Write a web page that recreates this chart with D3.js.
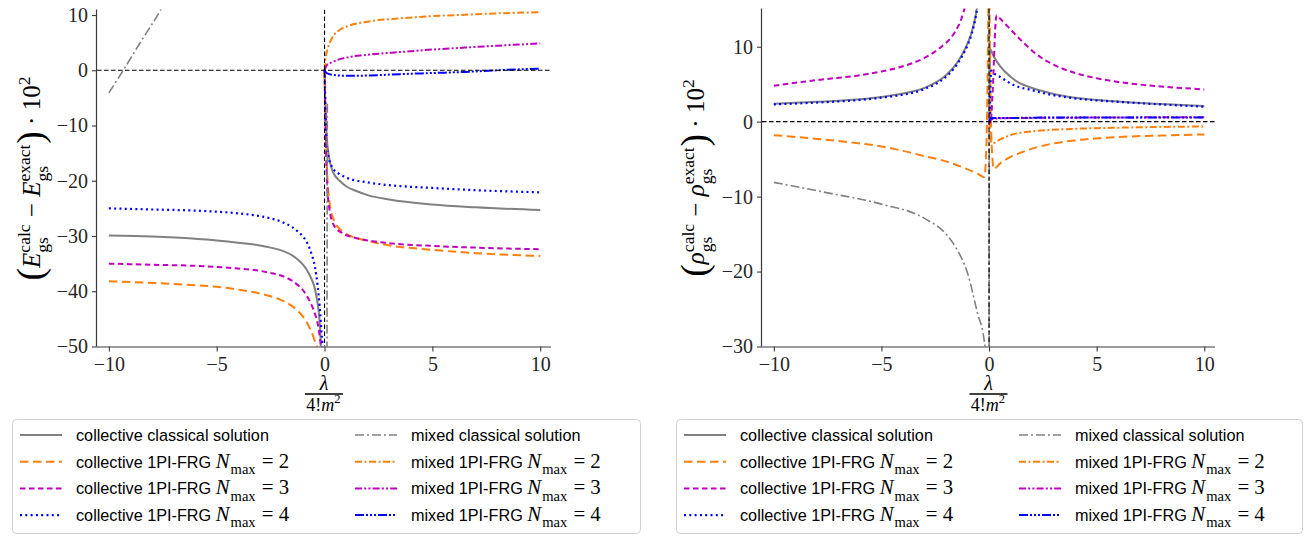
<!DOCTYPE html>
<html>
<head>
<meta charset="utf-8">
<script src="https://cdn.jsdelivr.net/npm/d3@7"></script>
<style>
  body { margin: 0; background: #fff; }
  svg { display: block; }
  text { white-space: pre; }
</style>
</head>
<body>
<div id="chart"></div>
<script>
// ---- data: [lambda/(4! m^2), value*100] ----
const xTicks = [-10, -5, 0, 5, 10];
const energyTicks = [-50, -40, -30, -20, -10, 0, 10];
const densityTicks = [-30, -20, -10, 0, 10];

// ground state energy differences (left panel), each series split at lambda = 0
const eCollClassNeg = [[-10,-29.9],[-8,-30.1],[-6,-30.5],[-5,-30.8],[-4,-31.2],[-3,-31.7],[-2.5,-32.1],[-2,-32.6],[-1.5,-33.5],[-1.2,-34.4],[-1,-35.2],[-0.8,-36.3],[-0.6,-37.8],[-0.45,-39.5],[-0.35,-41.5],[-0.25,-44.5],[-0.17,-50.3],[-0.12,-60]];
const eCollClassPos = [[0.004,0],[0.03,-6],[0.1,-12],[0.2,-15.5],[0.4,-18.5],[0.7,-20],[1,-21],[1.5,-21.9],[2,-22.6],[3,-23.4],[5,-24.3],[7,-24.8],[10,-25.3]];
const eColl2Neg = [[-10,-38.2],[-8,-38.5],[-6,-38.9],[-5,-39.2],[-4,-39.7],[-3,-40.4],[-2.5,-40.9],[-2,-41.6],[-1.5,-42.7],[-1.2,-43.7],[-1,-44.6],[-0.8,-45.8],[-0.6,-47.4],[-0.45,-49],[-0.32,-50.5],[-0.2,-56]];
const eColl2Pos = [[0.004,0],[0.05,-10],[0.14,-20],[0.22,-23.6],[0.45,-27.3],[0.84,-29.2],[1.5,-30.4],[2,-30.9],[3,-31.7],[5,-32.5],[7,-33.1],[10,-33.6]];
const eColl3Neg = [[-10,-35],[-8,-35.2],[-6,-35.4],[-5,-35.6],[-4,-35.9],[-3,-36.3],[-2.5,-36.7],[-2,-37.2],[-1.5,-38.1],[-1.2,-39],[-1,-39.8],[-0.8,-41],[-0.6,-42.5],[-0.45,-44],[-0.32,-45.8],[-0.22,-48.3],[-0.15,-51],[-0.1,-58]];
const eColl3Pos = [[0.004,0],[0.05,-11],[0.14,-22],[0.22,-25],[0.45,-28.2],[0.84,-29.5],[1.5,-30.4],[2,-30.8],[3,-31.3],[5,-31.8],[7,-32.1],[10,-32.4]];
const eColl4Neg = [[-10,-25],[-8,-25.2],[-6,-25.4],[-5,-25.6],[-4,-25.9],[-3,-26.4],[-2.5,-26.8],[-2,-27.4],[-1.5,-28.4],[-1.2,-29.3],[-1,-30.1],[-0.8,-31.3],[-0.6,-33.3],[-0.45,-35.5],[-0.32,-39],[-0.22,-43],[-0.14,-47.5],[-0.09,-50.5],[-0.05,-58]];
const eColl4Pos = [[0.004,0],[0.05,-8],[0.1,-13],[0.2,-16],[0.4,-17.8],[0.7,-18.8],[1,-19.4],[2,-20.3],[3,-20.8],[5,-21.3],[7,-21.7],[10,-22.1]];
const eMixClassNeg = [[-10,-4.1],[-9.3,0.2],[-8.5,5.3],[-7.6,10.9],[-7.3,13]];
const eMixClassPos = [[0.11,-60],[0.12,-30],[0.13,-6]];
const eMix2Pos = [[0.003,0],[0.05,2.2],[0.14,3.8],[0.37,6.0],[0.7,7.3],[1.15,8.1],[2,8.8],[3.5,9.4],[5,9.8],[6.5,10.05],[8,10.3],[10,10.5]];
const eMix3Pos = [[0.003,0],[0.1,0.9],[0.37,1.5],[1.15,2.4],[2,2.8],[3.5,3.3],[5,3.75],[6.5,4.1],[8,4.45],[10,4.85]];
const eMix4Pos = [[0.003,0],[0.1,-0.5],[0.5,-0.9],[1.15,-1.0],[2,-0.95],[3.5,-0.7],[5,-0.5],[6.5,-0.3],[8,0],[10,0.3]];

// ground state density differences (right panel)
const dCollClassNeg = [[-10,2.4],[-8,2.65],[-6,3.0],[-5,3.3],[-4,3.75],[-3,4.5],[-2,6.2],[-1.6,7.4],[-1.3,8.7],[-1,10.4],[-0.8,12],[-0.6,14.5],[-0.5,16.5]];
const dCollClassPos = [[0.02,0.5],[0.05,9.7],[0.2,8.8],[0.54,7.3],[1,6.0],[1.32,5.3],[2,4.5],[2.87,3.8],[4,3.2],[6,2.7],[8,2.35],[10,2.1]];
const dColl2Neg = [[-10,-1.8],[-8,-2.3],[-6,-2.9],[-5,-3.3],[-4,-3.9],[-3,-4.6],[-2,-5.3],[-1.3,-6.0],[-0.8,-6.6],[-0.5,-7.0],[-0.22,-7.4],[-0.12,-3],[-0.07,5],[-0.03,16]];
const dColl2Pos = [[0.02,16],[0.06,5],[0.12,-3],[0.22,-6.3],[0.5,-5.6],[1,-4.7],[1.5,-4.1],[2,-3.6],[3,-2.9],[4,-2.5],[6,-2.05],[8,-1.85],[10,-1.7]];
const dColl3Neg = [[-10,4.8],[-8,5.55],[-6,6.2],[-5,6.7],[-4,7.4],[-3,8.5],[-2.3,9.8],[-1.6,11.9],[-1.3,13.6],[-1.1,15.5],[-1,16.5]];
const dColl3Pos = [[0.1,0.3],[0.2,6],[0.28,12],[0.35,14.2],[0.5,13.8],[0.8,12.9],[1.1,12.0],[1.4,11.1],[1.8,10.0],[2.2,9.0],[3,7.6],[4,6.5],[5,5.8],[6,5.3],[8,4.7],[10,4.3]];
const dColl4Neg = [[-10,2.3],[-8,2.55],[-6,2.9],[-5,3.2],[-4,3.6],[-3,4.35],[-2,6.0],[-1.6,7.2],[-1.3,8.5],[-1,10.2],[-0.8,11.8],[-0.6,14.3],[-0.5,16.3]];
const dColl4Pos = [[0.03,0.3],[0.1,6.8],[0.2,6.5],[0.5,6.0],[1,5.1],[1.32,4.7],[2,4.2],[2.87,3.6],[4,3.1],[6,2.65],[8,2.3],[10,2.0]];
const dMixClassNeg = [[-10,-8.1],[-7.5,-9.5],[-5,-11],[-3,-12.9],[-2,-15],[-1.5,-17],[-1,-20.2],[-0.54,-25.5],[-0.23,-29.1],[-0.15,-31]];
const dMixClassPos = [[0.005,-32],[0.01,16]];
const dMix2Pos = [[0.02,0],[0.08,-2.5],[0.16,-2.9],[0.5,-2.4],[1,-1.8],[1.32,-1.55],[2,-1.3],[2.87,-1.1],[4,-0.95],[6,-0.8],[8,-0.7],[10,-0.65]];
const dMix3Pos = [[0.02,-0.3],[0.1,0.3],[0.5,0.45],[2,0.5],[5,0.55],[10,0.6]];
const dMix4Pos = [[0.02,0],[0.06,0.4],[0.2,0.5],[1,0.5],[3,0.55],[6,0.55],[10,0.55]];

const seriesKeys = ['collClass', 'coll2', 'coll3', 'coll4', 'mixClass', 'mix2', 'mix3', 'mix4'];
const legendText = ['collective classical solution', 'collective 1PI-FRG ', 'collective 1PI-FRG ', 'collective 1PI-FRG ',
                    'mixed classical solution', 'mixed 1PI-FRG ', 'mixed 1PI-FRG ', 'mixed 1PI-FRG '];
const legendN = [null, 2, 3, 4, null, 2, 3, 4];

// ---- styles ----
const styles = {
  collClass: {color: '#808080', dash: null, w: 2},
  coll2: {color: '#ff7f0e', dash: '8.5,4.5', w: 2},
  coll3: {color: '#bf00bf', dash: '5.5,3.5', w: 2},
  coll4: {color: '#0000ff', dash: '2,3.3', w: 2.2},
  mixClass: {color: '#808080', dash: '9,3,2,3', w: 1.6},
  mix2: {color: '#ff7f0e', dash: '7,2.5,2,2.5', w: 2},
  mix3: {color: '#bf00bf', dash: '7,2.2,2,2.2,2,2.2', w: 2},
  mix4: {color: '#0000ff', dash: '9,2,2,2,2,2,2,2', w: 2},
};

const serif = '"Liberation Serif", "DejaVu Serif", serif';
const sans = '"Liberation Sans", Arial, sans-serif';
const axisColor = '#3a3a3a';

const svg = d3.select('#chart').append('svg')
    .attr('width', 1316)
    .attr('height', 536);

const minus = d => d < 0 ? '\u2212' + (-d) : String(d);

// lays out a little formula made of pieces, returns the group and its width
function mathText(parent, parts, fs) {
  const g = parent.append('g');
  let cx = 0;
  parts.forEach(p => {
    if (p.sup !== undefined || p.sub !== undefined) {
      const s = fs * 0.7;
      let w = 0;
      if (p.sup !== undefined) {
        const t = g.append('text').attr('x', cx).attr('y', -fs * 0.42)
          .attr('font-size', s).attr('font-family', serif).text(p.sup);
        w = Math.max(w, t.node().getComputedTextLength());
      }
      if (p.sub !== undefined) {
        const t = g.append('text').attr('x', cx).attr('y', fs * 0.3)
          .attr('font-size', s).attr('font-family', serif).text(p.sub);
        w = Math.max(w, t.node().getComputedTextLength());
      }
      cx += w + 1;
    } else {
      const t = g.append('text').attr('x', cx).attr('y', (p.dy || 0) * fs)
        .attr('font-size', fs * (p.scale || 1))
        .attr('font-style', p.it ? 'italic' : 'normal')
        .attr('font-family', p.font || serif)
        .text(p.t);
      cx += t.node().getComputedTextLength() + (p.pad || 0);
    }
  });
  return {g, width: cx};
}

function panel(cfg) {
  const x = d3.scaleLinear().domain([-10.55, 10.5]).range([cfg.left, cfg.right]);
  const y = d3.scaleLinear().domain(cfg.ydom).range([cfg.bottom, cfg.top]);
  const g = svg.append('g');

  g.append('clipPath').attr('id', cfg.id + '-clip')
    .append('rect')
      .attr('x', cfg.left).attr('y', cfg.top)
      .attr('width', cfg.right - cfg.left).attr('height', cfg.bottom - cfg.top);

  const line = d3.line()
      .x(d => x(d[0]))
      .y(d => y(d[1]))
      .curve(d3.curveMonotoneX);

  const plot = g.append('g').attr('clip-path', `url(#${cfg.id}-clip)`);
  cfg.series.forEach(s => {
    const st = styles[s.key];
    plot.append('path')
      .attr('d', line(s.pts))
      .attr('fill', 'none')
      .attr('stroke', st.color)
      .attr('stroke-width', st.w)
      .attr('stroke-dasharray', st.dash);
  });

  // reference lines at 0
  plot.append('line')
    .attr('x1', cfg.left).attr('x2', cfg.right)
    .attr('y1', y(0)).attr('y2', y(0))
    .attr('stroke', '#000').attr('stroke-width', 1.1).attr('stroke-dasharray', '4.5,2.5');
  plot.append('line')
    .attr('x1', x(0)).attr('x2', x(0))
    .attr('y1', cfg.top).attr('y2', cfg.bottom)
    .attr('stroke', '#000').attr('stroke-width', 1.1).attr('stroke-dasharray', '4.5,2.5');

  const xAxis = g.append('g')
      .attr('transform', `translate(0,${cfg.bottom})`)
      .call(d3.axisBottom(x).tickValues(xTicks).tickSize(5).tickPadding(4).tickFormat(minus));
  const yAxis = g.append('g')
      .attr('transform', `translate(${cfg.left},0)`)
      .call(d3.axisLeft(y).tickValues(cfg.yticks).tickSize(5).tickPadding(4).tickFormat(minus));
  [xAxis, yAxis].forEach(a => {
    a.select('.domain').attr('stroke', axisColor).attr('stroke-width', 1.2);
    a.selectAll('.tick line').attr('stroke', axisColor).attr('stroke-width', 1.1);
    a.selectAll('text').attr('font-family', serif).attr('font-size', 20).attr('fill', '#262626');
  });
  xAxis.select('.domain').attr('d', `M${cfg.left},0.5H${cfg.right}`);
  yAxis.select('.domain').attr('d', `M-0.5,${cfg.bottom}V${cfg.top}`);
  xAxis.selectAll('text').attr('dy', '0.75em');

  // x label: fraction lambda / 4! m^2
  const cx = (cfg.left + cfg.right) / 2;
  g.append('text').attr('x', cx).attr('y', 390)
    .attr('text-anchor', 'middle').attr('font-family', serif).attr('font-style', 'italic')
    .attr('font-size', 20).text('\u03bb');
  g.append('line').attr('x1', cx - 19).attr('x2', cx + 19).attr('y1', 394).attr('y2', 394)
    .attr('stroke', '#000').attr('stroke-width', 1.4);
  const den = mathText(g, [{t: '4!'}, {t: 'm', it: true}, {sup: '2'}], 18);
  den.g.attr('transform', `translate(${cx - den.width / 2},411)`);

  // y label
  const yl = mathText(g, cfg.ylabel, 25);
  yl.g.attr('transform', `translate(${cfg.ylabelX},${(cfg.top + cfg.bottom) / 2 + yl.width / 2}) rotate(-90)`);

  // legend
  const lg = g.append('g').attr('transform', `translate(${cfg.legendX},419)`);
  lg.append('rect')
    .attr('x', 0.5).attr('y', 0.5).attr('width', cfg.legendW).attr('height', 114)
    .attr('rx', 4).attr('fill', '#fff').attr('stroke', '#d0d0d0');
  seriesKeys.forEach((k, i) => {
    const col = Math.floor(i / 4), row = i % 4;
    const ox = col === 0 ? 8 : 343, oy = 16 + row * 26.7;
    const st = styles[k];
    lg.append('line')
      .attr('x1', ox).attr('x2', ox + 42).attr('y1', oy).attr('y2', oy)
      .attr('stroke', st.color).attr('stroke-width', st.w).attr('stroke-dasharray', st.dash);
    const parts = [{t: legendText[i], font: sans, scale: 0.78}];
    if (legendN[i] !== null) {
      parts.push({t: 'N', it: true, pad: 1}, {sub: 'max'}, {t: ' = ' + legendN[i]});
    }
    const m = mathText(lg, parts, 20.8);
    m.g.attr('transform', `translate(${ox + 56},${oy + 6})`);
  });
}

const eLabel = [
  {t: '(', scale: 1.5, dy: 0.12}, {t: 'E', it: true}, {sup: 'calc', sub: 'gs'},
  {t: ' \u2212 '}, {t: 'E', it: true}, {sup: 'exact', sub: 'gs'},
  {t: ')', scale: 1.5, dy: 0.12}, {t: ' \u00b7 10'}, {sup: '2'}
];
const rLabel = [
  {t: '(', scale: 1.5, dy: 0.12}, {t: '\u03c1', it: true}, {sup: 'calc', sub: 'gs'},
  {t: ' \u2212 '}, {t: '\u03c1', it: true}, {sup: 'exact', sub: 'gs'},
  {t: ')', scale: 1.5, dy: 0.12}, {t: ' \u00b7 10'}, {sup: '2'}
];

panel({
  id: 'energy', left: 97, right: 551, top: 9.5, bottom: 346.5,
  ydom: [-50, 11], yticks: energyTicks, ylabel: eLabel, ylabelX: 40,
  legendX: 12, legendW: 628,
  series: [
    {key: 'collClass', pts: eCollClassNeg}, {key: 'collClass', pts: eCollClassPos},
    {key: 'coll2', pts: eColl2Neg}, {key: 'coll2', pts: eColl2Pos},
    {key: 'coll3', pts: eColl3Neg}, {key: 'coll3', pts: eColl3Pos},
    {key: 'coll4', pts: eColl4Neg}, {key: 'coll4', pts: eColl4Pos},
    {key: 'mixClass', pts: eMixClassNeg}, {key: 'mixClass', pts: eMixClassPos},
    {key: 'mix2', pts: eMix2Pos}, {key: 'mix3', pts: eMix3Pos}, {key: 'mix4', pts: eMix4Pos}
  ]
});

panel({
  id: 'density', left: 762, right: 1215, top: 8.5, bottom: 346.5,
  ydom: [-30, 15.1], yticks: densityTicks, ylabel: rLabel, ylabelX: 704,
  legendX: 676, legendW: 626,
  series: [
    {key: 'collClass', pts: dCollClassNeg}, {key: 'collClass', pts: dCollClassPos},
    {key: 'coll2', pts: dColl2Neg}, {key: 'coll2', pts: dColl2Pos},
    {key: 'coll3', pts: dColl3Neg}, {key: 'coll3', pts: dColl3Pos},
    {key: 'coll4', pts: dColl4Neg}, {key: 'coll4', pts: dColl4Pos},
    {key: 'mixClass', pts: dMixClassNeg}, {key: 'mixClass', pts: dMixClassPos},
    {key: 'mix2', pts: dMix2Pos}, {key: 'mix3', pts: dMix3Pos}, {key: 'mix4', pts: dMix4Pos}
  ]
});
</script>
</body>
</html>
